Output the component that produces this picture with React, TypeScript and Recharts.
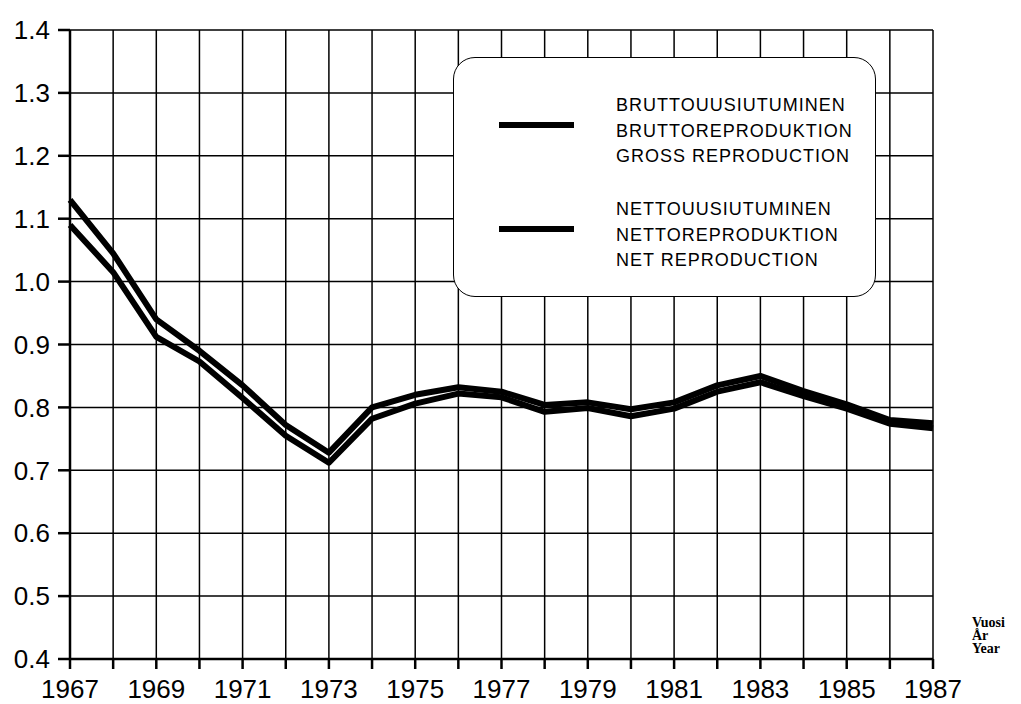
import React from 'react';
import { LineChart, Line, XAxis, YAxis, CartesianGrid } from 'recharts';

const years = [1967, 1968, 1969, 1970, 1971, 1972, 1973, 1974, 1975, 1976, 1977, 1978, 1979, 1980, 1981, 1982, 1983, 1984, 1985, 1986, 1987];
const gross = [1.13, 1.045, 0.94, 0.89, 0.835, 0.772, 0.728, 0.8, 0.82, 0.832, 0.825, 0.804, 0.808, 0.797, 0.808, 0.835, 0.85, 0.826, 0.805, 0.78, 0.775];
const net = [1.09, 1.015, 0.912, 0.873, 0.815, 0.755, 0.712, 0.782, 0.806, 0.822, 0.816, 0.793, 0.799, 0.786, 0.798, 0.825, 0.84, 0.818, 0.798, 0.774, 0.767];
const yTicks = [0.4, 0.5, 0.6, 0.7, 0.8, 0.9, 1.0, 1.1, 1.2, 1.3, 1.4];

const grossLabel = ['BRUTTOUUSIUTUMINEN', 'BRUTTOREPRODUKTION', 'GROSS REPRODUCTION'];
const netLabel = ['NETTOUUSIUTUMINEN', 'NETTOREPRODUKTION', 'NET REPRODUCTION'];
const axisUnit = ['Vuosi', 'År', 'Year'];

const data = years.map((y, i) => ({ year: y, gross: gross[i], net: net[i] }));

const font = '"Liberation Sans", Arial, sans-serif';

// one legend entry: thick line sample + three-language label
const LegendEntry = ({ lines, top }: { lines: string[]; top: number }) => (
  <>
    <div style={{ position: 'absolute', left: 45, top: top + 29, width: 75, height: 6, background: '#000' }} />
    <div
      style={{
        position: 'absolute',
        left: 162,
        top,
        fontSize: 18,
        letterSpacing: 1,
        lineHeight: '25.5px',
        color: '#000',
        whiteSpace: 'nowrap',
      }}
    >
      {lines.map((l) => (
        <div key={l}>{l}</div>
      ))}
    </div>
  </>
);

const App: React.FC = () => {
  return (
    <div style={{ position: 'absolute', left: 0, top: 0, width: 1021, height: 704, background: '#fff', fontFamily: font }}>
      <LineChart width={1021} height={704} data={data} margin={{ top: 30, right: 88, bottom: 0, left: 10 }}>
        <CartesianGrid stroke="#000" strokeWidth={1.5} verticalValues={years} horizontalValues={yTicks} />
        <XAxis
          dataKey="year"
          type="number"
          domain={[1967, 1987]}
          ticks={years}
          interval={0}
          tickFormatter={(v: number) => (v % 2 === 1 ? String(v) : '')}
          stroke="#000"
          strokeWidth={2.5}
          tickSize={10}
          tickMargin={11}
          height={45}
          tick={{ fill: '#000', fontSize: 26, fontFamily: font }}
        />
        <YAxis
          type="number"
          domain={[0.4, 1.4]}
          ticks={yTicks}
          interval={0}
          tickFormatter={(v: number) => v.toFixed(1)}
          stroke="#000"
          strokeWidth={2.5}
          tickSize={12}
          tickMargin={8}
          width={60}
          tick={{ fill: '#000', fontSize: 26, fontFamily: font }}
        />
        <Line dataKey="gross" stroke="#000" strokeWidth={6} dot={false} isAnimationActive={false} strokeLinejoin="round" />
        <Line dataKey="net" stroke="#000" strokeWidth={6} dot={false} isAnimationActive={false} strokeLinejoin="round" />
      </LineChart>
      <div
        style={{
          position: 'absolute',
          left: 453,
          top: 57,
          width: 423,
          height: 240,
          border: '1.5px solid #000',
          borderRadius: 22,
          background: '#fff',
          boxSizing: 'border-box',
        }}
      >
        <LegendEntry lines={grossLabel} top={35} />
        <LegendEntry lines={netLabel} top={139} />
      </div>
      <div
        style={{
          position: 'absolute',
          left: 972,
          top: 616,
          fontFamily: '"Liberation Serif", "DejaVu Serif", serif',
          fontWeight: 'bold',
          fontSize: 14,
          lineHeight: '13px',
        }}
      >
        {axisUnit.map((u) => (
          <div key={u}>{u}</div>
        ))}
      </div>
    </div>
  );
};

export default App;
